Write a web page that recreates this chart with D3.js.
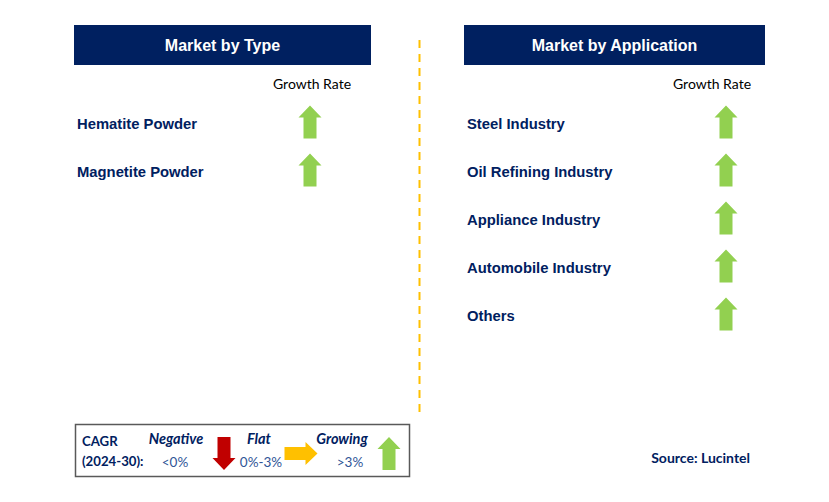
<!DOCTYPE html>
<html><head><meta charset="utf-8">
<script src="https://cdn.jsdelivr.net/npm/d3@7"></script>
<style>body{margin:0;background:#fff}svg{display:block}</style>
</head><body>
<script>
const typeTitle = "Market by Type";
const typeCategories = ["Hematite Powder", "Magnetite Powder"];
const typeGrowth = ["up", "up"];
const appTitle = "Market by Application";
const appCategories = ["Steel Industry", "Oil Refining Industry", "Appliance Industry", "Automobile Industry", "Others"];
const appGrowth = ["up", "up", "up", "up", "up"];
const growthHeader = "Growth Rate";
const legendLabels = ["Negative", "Flat", "Growing"];
const legendRanges = ["<0%", "0%-3%", ">3%"];
const legendDirs = ["down", "right", "up"];
const source = "Source: Lucintel";

const W = 829, H = 502;
const navy = "#002060", green = "#92D050", red = "#C00000", amber = "#FFC000";
const bold = "'Liberation Sans', Arial, sans-serif";
const cal = "Lato, 'Open Sans', sans-serif";

const svg = d3.select("body").append("svg").attr("width", W).attr("height", H);

function arrow(g, dir, cx, cy, color) {
  const p = "M0,-16.5 L11.5,-4.5 L6.5,-4.5 L6.5,16.5 L-6.5,16.5 L-6.5,-4.5 L-11.5,-4.5 Z";
  const rot = {up: 0, right: 90, down: 180}[dir];
  g.append("path").attr("d", p).attr("fill", color)
    .attr("transform", `translate(${cx},${cy}) rotate(${rot})`);
}
const colorFor = {up: green, right: amber, down: red};

function panel(x0, x1, title, cats, growth, arrowX, headerX) {
  const g = svg.append("g");
  g.append("rect").attr("x", x0).attr("y", 25).attr("width", x1 - x0).attr("height", 40).attr("fill", navy);
  g.append("text").attr("x", (x0 + x1) / 2).attr("y", 51).attr("text-anchor", "middle")
    .attr("fill", "#fff").attr("font-family", bold).attr("font-weight", "bold").attr("font-size", 16).text(title);
  g.append("text").attr("x", headerX).attr("y", 89).attr("text-anchor", "middle")
    .attr("fill", "#000").attr("font-family", cal).attr("font-size", 14).text(growthHeader);
  const y = d3.scaleLinear().domain([0, 1]).range([124, 172]);
  cats.forEach((c, i) => {
    g.append("text").attr("x", x0 + 3).attr("y", y(i) + 5).attr("fill", navy)
      .attr("font-family", bold).attr("font-weight", "bold").attr("font-size", 14.8).text(c);
    arrow(g, growth[i], arrowX, y(i) - 2, colorFor[growth[i]]);
  });
}
panel(74, 371, typeTitle, typeCategories, typeGrowth, 310, 312);
panel(464, 765, appTitle, appCategories, appGrowth, 726, 712);

svg.append("line").attr("x1", 419.5).attr("x2", 419.5).attr("y1", 40).attr("y2", 412)
  .attr("stroke", amber).attr("stroke-width", 2).attr("stroke-dasharray", "8,6");

const lg = svg.append("g");
lg.append("rect").attr("x", 75.5).attr("y", 424.5).attr("width", 334).attr("height", 52)
  .attr("fill", "none").attr("stroke", "#595959").attr("stroke-width", 1.5);
lg.append("text").attr("x", 82).attr("y", 446).attr("fill", navy).attr("font-family", cal)
  .attr("font-weight", "bold").attr("font-size", 13.2).text("CAGR");
lg.append("text").attr("x", 82).attr("y", 466).attr("fill", navy).attr("font-family", cal)
  .attr("font-weight", "bold").attr("font-size", 13.2).text("(2024-30):");
const lx = d3.scalePoint().domain(legendLabels).range([176, 342]);
const rx = [175, 261, 350];
const ax = [224, 301, 389];
legendLabels.forEach((l, i) => {
  lg.append("text").attr("x", lx(l)).attr("y", 444).attr("text-anchor", "middle").attr("fill", navy)
    .attr("font-family", cal).attr("font-weight", "bold").attr("font-style", "italic").attr("font-size", 14.5).text(l);
  lg.append("text").attr("x", rx[i]).attr("y", 467).attr("text-anchor", "middle").attr("fill", "#2F5597")
    .attr("font-family", cal).attr("font-size", 13.5).text(legendRanges[i]);
  arrow(lg, legendDirs[i], ax[i], 453.5, colorFor[legendDirs[i]]);
});

svg.append("text").attr("x", 750).attr("y", 463).attr("text-anchor", "end").attr("fill", navy)
  .attr("font-family", cal).attr("font-weight", "bold").attr("font-size", 14).text(source);
</script>
</body></html>
